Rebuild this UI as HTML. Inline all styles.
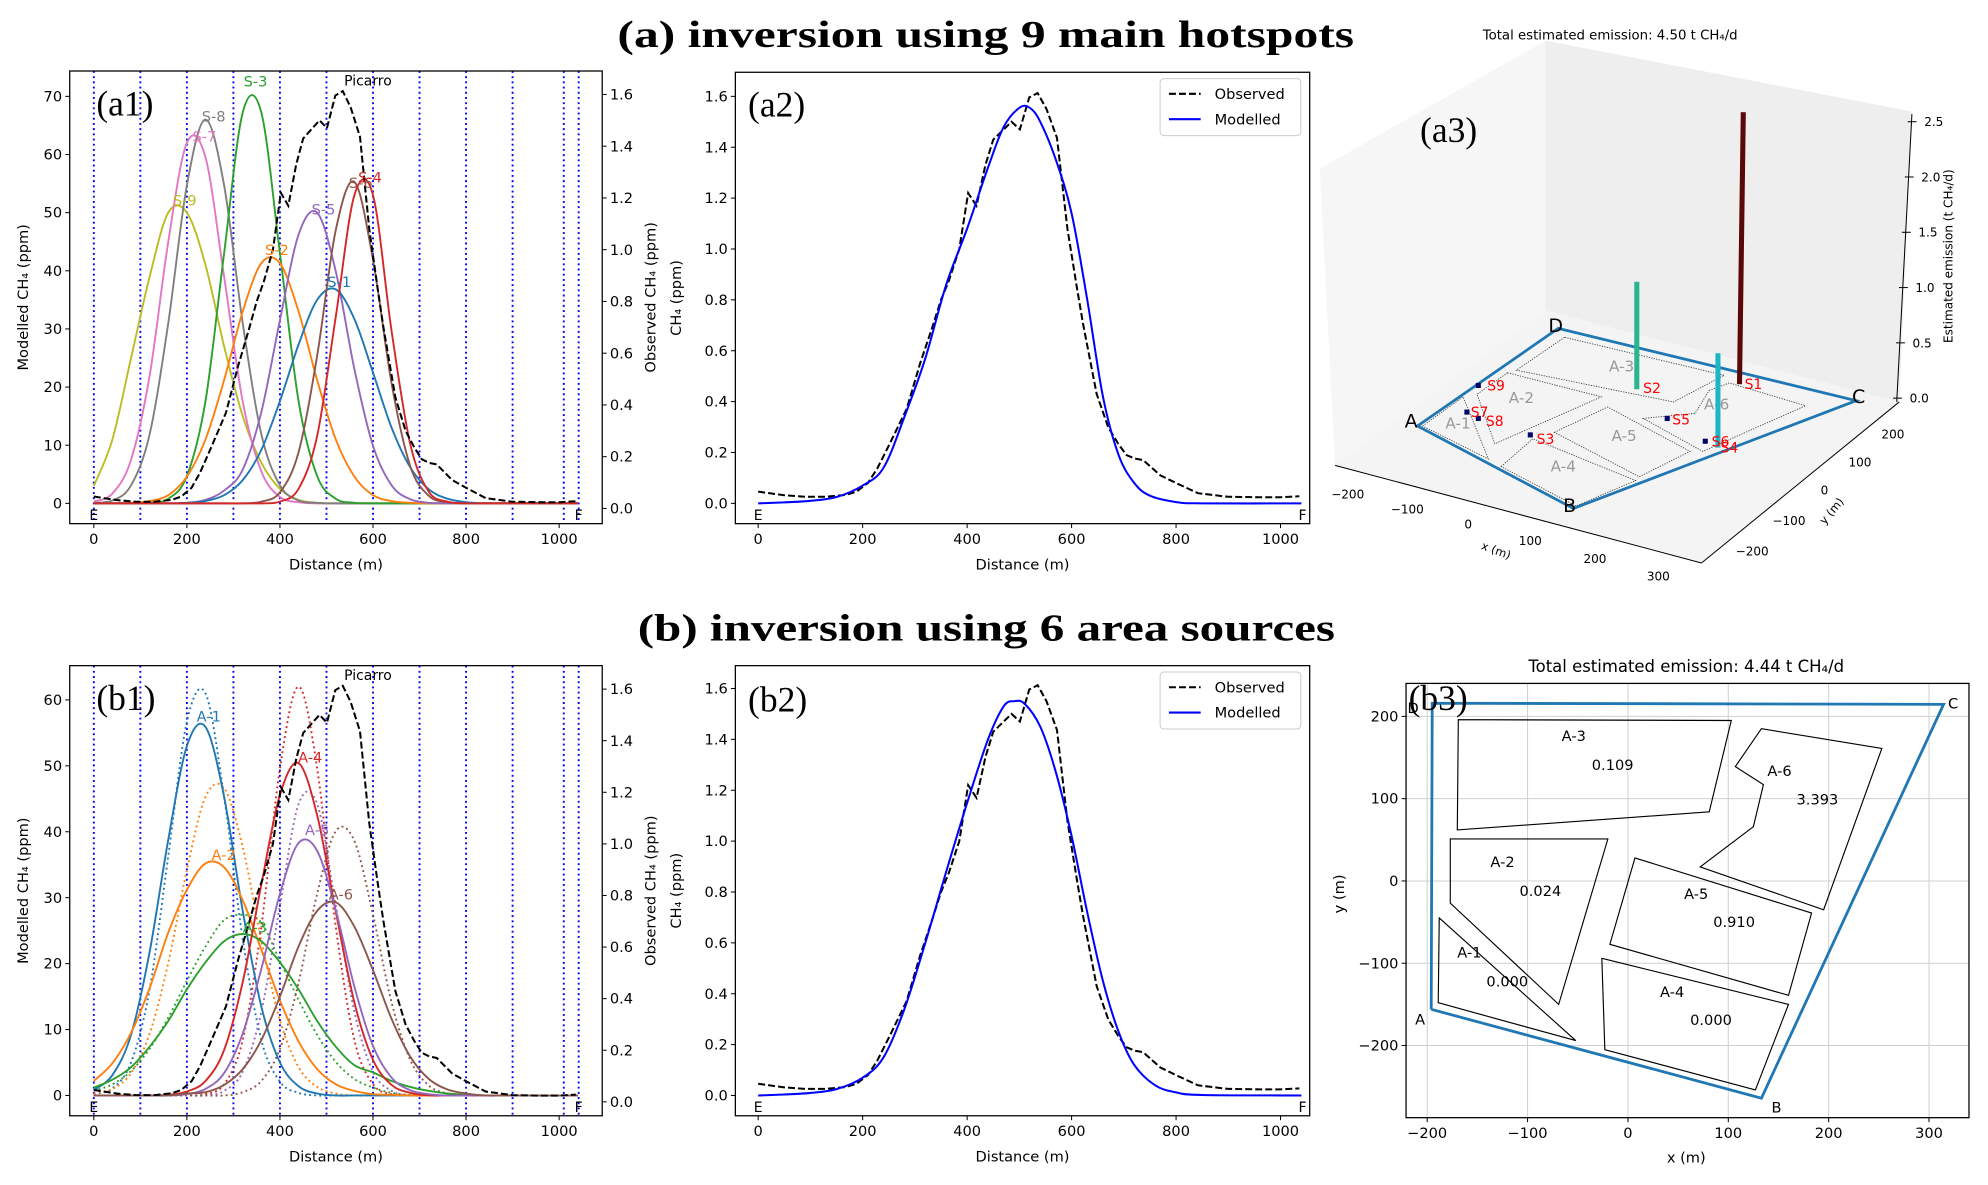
<!DOCTYPE html>
<html><head><meta charset="utf-8">
<style>
html,body{margin:0;padding:0;background:#fff;}
svg{display:block;}
text{font-family:"DejaVu Sans","Liberation Sans",sans-serif;}
.serif{font-family:"Liberation Serif","DejaVu Serif",serif;}
</style></head>
<body>
<svg id="fig" xmlns="http://www.w3.org/2000/svg" width="1988" height="1185" viewBox="0 0 1568 934.6" preserveAspectRatio="none">
<text class="serif" x="487" y="37" font-size="30" font-weight="bold" textLength="581" lengthAdjust="spacingAndGlyphs">(a) inversion using 9 main hotspots</text>
<text class="serif" x="503" y="505" font-size="30" font-weight="bold" textLength="550" lengthAdjust="spacingAndGlyphs">(b) inversion using 6 area sources</text>
</svg>
<script>
// ---------- data ----------
const dist=[0,40,80,120,160,200,240,280,320,360,400,440,480,520,560,600,640,680,720,760,800,840,880,920,960,1000,1040];
const aNames=['S-9','S-7','S-8','S-3','S-2','S-5','S-1','S-6','S-4'];
const aColors=['#bcbd22','#e377c2','#7f7f7f','#2ca02c','#ff7f0e','#9467bd','#1f77b4','#8c564b','#d62728'];
const s9=[3,11,25,39,50,50,41,27,15,7,2.5,0.6,0.1,0,0,0,0,0,0,0,0,0,0,0,0,0,0];
const s7=[0.3,1.7,7.5,22,45,62,59.5,39,17.5,5.5,1.1,0.2,0,0,0,0,0,0,0,0,0,0,0,0,0,0,0];
const s8=[0.1,0.5,3.1,11.9,31,54.7,66,54.7,31,11.9,3.1,0.5,0.1,0,0,0,0,0,0,0,0,0,0,0,0,0,0];
const s3=[0,0,0,0.1,0.8,4.7,17.6,43,67.2,67.2,43,17.6,4.7,0.8,0.1,0,0,0,0,0,0,0,0,0,0,0,0];
const s2=[0,0,0.1,0.4,1.4,4.6,11,21.2,33,41.3,41.3,33,21.2,11,4.6,1.4,0.4,0.1,0,0,0,0,0,0,0,0,0];
const s5=[0,0,0,0,0,0.1,0.6,2.2,5.8,15.7,31.5,46.2,50,39.9,23.1,9.9,3.1,0.7,0.1,0,0,0,0,0,0,0,0];
const s1=[0,0,0,0,0,0.1,0.4,1.4,4,9.2,17.6,27.3,35,36.8,31.7,22.5,13,6.2,2.4,0.8,0.2,0,0,0,0,0,0];
const s6=[0,0,0,0,0,0,0,0,0,0.3,1.9,8.8,25.4,47,55.3,41.9,20.6,6.4,1.3,0.2,0,0,0,0,0,0,0];
const s4=[0,0,0,0,0,0,0,0,0,0,0.3,2.5,11.6,32.1,53,53,29.6,10.2,2,0.3,0,0,0,0,0,0,0];
const aLabelX=[170,212,232,322,368,468,502,548,568];
const aLabelY=[51,62,65.5,71.5,42.5,49.5,37,54,55];

const bNames=['A-1','A-2','A-3','A-4','A-5','A-6'];
const bColors=['#1f77b4','#ff7f0e','#2ca02c','#d62728','#9467bd','#8c564b'];
const a1s=[0.8,3.1,9.2,21.8,38.8,53,55.9,45.3,28,13.5,5,1.4,0.3,0,0,0,0,0,0,0,0,0,0,0,0,0,0];
const a1d=[0.2,1.1,5,16.1,36.3,56.7,61,45.3,23.7,8.4,2.1,0.4,0,0,0,0,0,0,0,0,0,0,0,0,0,0,0];
const a2s=[2.2,4.9,9.5,16.3,24.7,31.2,35.2,34.6,29.6,22.1,14.4,8.2,4,1.7,0.7,0.2,0.1,0,0,0,0,0,0,0,0,0,0];
const a2d=[0.3,1,3.4,9.4,20.1,34.2,45.3,46.6,37.7,23.5,11.4,4.3,1.3,0.3,0,0,0,0,0,0,0,0,0,0,0,0,0];
const a3s=[1.2,2.4,4.3,7.4,11.3,16.1,20.2,23.4,24.5,23.4,20.2,16.1,11.3,7.4,4.6,3.5,2.2,1.3,0.7,0.3,0.1,0,0,0,0,0,0];
const a3d=[0.7,1.7,3.7,7.1,11.8,17.4,22.6,26.6,27.4,26.2,20.4,14.5,9.2,5.1,2.5,1.2,0.4,0.1,0,0,0,0,0,0,0,0,0];
const a4s=[0,0,0,0,0.1,0.6,2.2,6.9,17.2,32,45.6,50.4,42.5,27.9,14.1,5.4,1.6,0.4,0,0,0,0,0,0,0,0,0];
const a4d=[0,0,0,0,0,0,0.2,1.7,8.4,25.6,49.6,62,49.6,25.6,8.4,1.7,0.2,0,0,0,0,0,0,0,0,0,0];
const a5s=[0,0,0,0,0,0.2,1,3.4,9.4,19.2,30.6,38.3,37.1,28.1,16.5,7.5,2.7,0.8,0.2,0,0,0,0,0,0,0,0];
const a5d=[0,0,0,0,0,0,0,0.7,3.6,12.7,28.8,44.2,44.2,28.8,12.7,3.6,0.7,0,0,0,0,0,0,0,0,0,0];
const a6s=[0,0,0,0,0,0.3,0.5,1.6,4,8.4,15,22.6,28,29.3,25.6,19,11.6,5.9,2.5,0.9,0.3,0,0,0,0,0,0];
const a6d=[0,0,0,0,0,0,0,0,0.5,2.2,7.1,17.1,30.6,40.1,38.6,27.4,14.1,5.4,1.5,0.3,0,0,0,0,0,0,0];
const bLabelX=[221,253,320,439,454,505];
const bLabelY=[56.5,35.5,24.5,50.3,39.3,29.5];

const obsD=[0,50,90,130,167,188,210,228,252,284,310,333,350,365,385,402,418,435,450,470,485,501,519,535,552,572,592,610,622,648,670,689,705,721,737,770,802,842,899,960,1000,1036];
const obsV=[0.046,0.032,0.026,0.026,0.033,0.046,0.08,0.137,0.235,0.37,0.55,0.69,0.8,0.875,1.0,1.22,1.17,1.33,1.43,1.47,1.5,1.47,1.596,1.613,1.55,1.437,1.08,0.85,0.705,0.43,0.3,0.235,0.19,0.176,0.17,0.11,0.078,0.04,0.026,0.024,0.024,0.028];
const modAD=[0,50,100,150,200,240,280,320,360,400,440,470,500,520,540,570,600,630,660,690,720,750,800,850,1040];
const modAV=[0,0.004,0.01,0.025,0.07,0.14,0.34,0.57,0.86,1.08,1.32,1.48,1.555,1.555,1.5,1.35,1.14,0.8,0.42,0.19,0.08,0.03,0.005,0,0];
const modBD=[0,50,100,150,200,240,280,320,360,400,440,470,490,510,540,570,600,630,660,690,720,760,800,850,1040];
const modBV=[0,0.004,0.01,0.025,0.07,0.15,0.34,0.6,0.88,1.15,1.4,1.53,1.55,1.54,1.45,1.27,1.02,0.72,0.45,0.25,0.12,0.04,0.012,0.002,0];
const vLines=[0,100,200,300,400,500,600,700,800,900,1010,1042];
const xTicks=[0,200,400,600,800,1000];
const obsTicks=[0,0.2,0.4,0.6,0.8,1.0,1.2,1.4,1.6];

// a3 bars
const barNames=['S1','S2','S4'];
const barEmis=[2.48,0.98,0.86];
const zTicks=[0,0.5,1.0,1.5,2.0,2.5];

// b3 data
const areaNames=['A-1','A-2','A-3','A-4','A-5','A-6'];
const areaEmis=['0.000','0.024','0.109','0.000','0.910','3.393'];
const polyA1=[[-188,-45],[-52,-194],[-189,-148]];
const polyA2=[[-177,51],[-20,51],[-69,-150],[-177,-27]];
const polyA3=[[-169,196],[103,195],[81,84],[-170,62]];
const polyA4=[[-26,-94],[160,-150],[127,-254],[-23,-205]];
const polyA5=[[7,28],[183,-39],[160,-139],[-18,-77]];
const polyA6=[[133,185],[253,161],[195,-35],[72,17],[125,66],[135,117],[107,139]];
const labelPos=[[-170,-87],[-137,23],[-66,176],[32,-135],[56,-16],[139,134]];
const valuePos=[[-141,-122],[-108,-12],[-36,141],[62,-169],[85,-50],[168,99]];
const boundary=[[-196,-156],[-195,216],[314.5,214.6],[133,-264],[-196,-156]];
const cornerNames=['A','D','C','B'];
const cornerPos=[[-207,-168],[-214,210],[324,216],[148,-275]];
const b3XTicks=[-200,-100,0,100,200,300];
const b3YTicks=[-200,-100,0,100,200];

// ---------- helpers ----------
const NS='http://www.w3.org/2000/svg';
const svg=document.getElementById('fig');
const FS=11.5;
function add(parent,tag,attrs,name,text){
  const el=document.createElementNS(NS,tag);
  for(const k in attrs) el.setAttribute(k,attrs[k]);
  
  
  if(text!==undefined) el.textContent=text;
  parent.appendChild(el);
  return el;
}
function lin(d0,d1,r0,r1){return v=>r0+(v-d0)*(r1-r0)/(d1-d0);}
function smooth(pts){
  let d='M'+pts[0][0].toFixed(2)+','+pts[0][1].toFixed(2);
  for(let i=0;i<pts.length-1;i++){
    const p0=pts[i-1]||pts[i],p1=pts[i],p2=pts[i+1],p3=pts[i+2]||p2;
    const c1=[p1[0]+(p2[0]-p0[0])/6,p1[1]+(p2[1]-p0[1])/6];
    const c2=[p2[0]-(p3[0]-p1[0])/6,p2[1]-(p3[1]-p1[1])/6];
    d+='C'+c1[0].toFixed(2)+','+c1[1].toFixed(2)+' '+c2[0].toFixed(2)+','+c2[1].toFixed(2)+' '+p2[0].toFixed(2)+','+p2[1].toFixed(2);
  }
  return d;
}
function poly(pts){return 'M'+pts.map(p=>p[0].toFixed(2)+','+p[1].toFixed(2)).join('L');}
let clipN=0;
function clip(box){
  const id='clip'+(clipN++);
  const cp=add(svg,'clipPath',{id:id},'clip-region');
  add(cp,'rect',{x:box.L,y:box.T,width:box.R-box.L,height:box.B-box.T},'clip-rect');
  return 'url(#'+id+')';
}
function xAxis(g,box,X,label){
  xTicks.forEach(t=>{
    add(g,'line',{x1:X(t),x2:X(t),y1:box.B,y2:box.B+3.5,stroke:'#000','stroke-width':0.8},'x-tick');
    add(g,'text',{x:X(t),y:box.B+16,'font-size':FS,'text-anchor':'middle'},'x-tick-label',String(t));
  });
  add(g,'text',{x:(box.L+box.R)/2,y:box.B+36,'font-size':FS,'text-anchor':'middle'},'x-axis-title',label);
}
function yAxis(g,box,Y,ticks,fmt,side){
  ticks.forEach(t=>{
    if(side==='left'){
      add(g,'line',{x1:box.L,x2:box.L-3.5,y1:Y(t),y2:Y(t),stroke:'#000','stroke-width':0.8},'y-tick');
      add(g,'text',{x:box.L-6,y:Y(t)+4,'font-size':FS,'text-anchor':'end'},'y-tick-label',fmt(t));
    }else{
      add(g,'line',{x1:box.R,x2:box.R+3.5,y1:Y(t),y2:Y(t),stroke:'#000','stroke-width':0.8},'y2-tick');
      add(g,'text',{x:box.R+6,y:Y(t)+4,'font-size':FS,'text-anchor':'start'},'y2-tick-label',fmt(t));
    }
  });
}
function vtext(g,x,y,txt,name){
  add(g,'text',{x:x,y:y,'font-size':FS,'text-anchor':'middle',transform:'rotate(-90 '+x+' '+y+')'},name,txt);
}
function ef(g,X,yb){
  add(g,'text',{x:X(0),y:yb,'font-size':11,'text-anchor':'middle'},'label-e','E');
  add(g,'text',{x:X(1042),y:yb,'font-size':11,'text-anchor':'middle'},'label-f','F');
}

// ---------- source panels (a1, b1) ----------
function sourcePanel(cfg){
  const g=add(svg,'g',{},cfg.name);
  const box=cfg.box, X=lin(0,1000,cfg.x0,cfg.x1000), YL=lin(0,cfg.ltop,cfg.yl0,cfg.yltop), YR=lin(0,1.6,cfg.yr0,cfg.yr16);
  const cp=clip(box);
  const inner=add(g,'g',{'clip-path':cp},'plot-area');
  vLines.forEach(v=>add(inner,'line',{x1:X(v),x2:X(v),y1:box.T,y2:box.B,stroke:'#0000ff','stroke-width':1.5,'stroke-dasharray':'1.5,2.6'},'section-line'));
  cfg.series.forEach((s,i)=>{
    add(inner,'path',{d:smooth(dist.map((d,j)=>[X(d),YL(s.v[j])])),fill:'none',stroke:s.c,'stroke-width':1.5,'stroke-dasharray':s.dot?'1.5,2.5':'none'},s.name);
  });
  add(inner,'path',{d:poly(obsD.map((d,j)=>[X(d),YR(obsV[j])])),fill:'none',stroke:'#000','stroke-width':1.6,'stroke-dasharray':'5.5,2.4'},'observed-line');
  cfg.labels.forEach(l=>add(g,'text',{x:X(l.x),y:YL(l.y)-1,'font-size':11.5,fill:l.c},'curve-label',l.t));
  add(g,'text',{x:X(538),y:YR(1.635),'font-size':11},'picarro-label','Picarro');
  ef(g,X,cfg.yl0+13);
  add(g,'rect',{x:box.L,y:box.T,width:box.R-box.L,height:box.B-box.T,fill:'none',stroke:'#000','stroke-width':1},'plot-frame');
  xAxis(g,box,X,'Distance (m)');
  const lt=[];for(let t=0;t<=cfg.ltop;t+=10)lt.push(t);
  yAxis(g,box,YL,lt,t=>String(t),'left');
  yAxis(g,box,YR,obsTicks,t=>t.toFixed(1),'right');
  vtext(g,22,(box.T+box.B)/2,'Modelled CH\u2084 (ppm)','y-axis-title');
  vtext(g,517,(box.T+box.B)/2,'Observed CH\u2084 (ppm)','y2-axis-title');
  add(g,'text',{class:'serif',x:76,y:cfg.labY,'font-size':28},'panel-label',cfg.lab);
}
sourcePanel({name:'panel-a1',lab:'(a1)',labY:91,box:{L:55,R:475,T:56,B:413},x0:74,x1000:441,ltop:70,yl0:397,yltop:76,yr0:401,yr16:74.5,
  series:[s9,s7,s8,s3,s2,s5,s1,s6,s4].map((v,i)=>({v:v,c:aColors[i],name:'curve-'+aNames[i].toLowerCase()})),
  labels:aNames.map((t,i)=>({t:t,x:aLabelX[i],y:aLabelY[i],c:aColors[i]}))});
sourcePanel({name:'panel-b1',lab:'(b1)',labY:560,box:{L:55,R:475,T:525,B:880},x0:74,x1000:441,ltop:60,yl0:864,yltop:552,yr0:869,yr16:543.5,
  series:[a1d,a2d,a3d,a4d,a5d,a6d].map((v,i)=>({v:v,c:bColors[i],dot:true,name:'curve-'+bNames[i].toLowerCase()+'-dotted'}))
   .concat([a1s,a2s,a3s,a4s,a5s,a6s].map((v,i)=>({v:v,c:bColors[i],name:'curve-'+bNames[i].toLowerCase()}))),
  labels:bNames.map((t,i)=>({t:t,x:bLabelX[i],y:bLabelY[i],c:bColors[i]}))});

// ---------- fit panels (a2, b2) ----------
function fitPanel(cfg){
  const g=add(svg,'g',{},cfg.name);
  const box=cfg.box, X=lin(0,1000,598,1010), Y=lin(0,1.6,cfg.y0,cfg.y16);
  const cp=clip(box);
  const inner=add(g,'g',{'clip-path':cp},'plot-area');
  add(inner,'path',{d:poly(obsD.map((d,j)=>[X(d),Y(obsV[j])])),fill:'none',stroke:'#000','stroke-width':1.6,'stroke-dasharray':'5.5,2.4'},'observed-line');
  add(inner,'path',{d:smooth(cfg.md.map((d,j)=>[X(d),Y(cfg.mv[j])])),fill:'none',stroke:'#0000ff','stroke-width':1.6},'modelled-line');
  ef(g,X,cfg.y0+13);
  add(g,'rect',{x:box.L,y:box.T,width:box.R-box.L,height:box.B-box.T,fill:'none',stroke:'#000','stroke-width':1},'plot-frame');
  xAxis(g,box,X,'Distance (m)');
  yAxis(g,box,Y,obsTicks,t=>t.toFixed(1),'left');
  vtext(g,537,(box.T+box.B)/2,'CH\u2084 (ppm)','y-axis-title');
  add(g,'text',{class:'serif',x:590,y:cfg.labY,'font-size':28},'panel-label',cfg.lab);
  const lg=add(g,'g',{},'legend');
  const ly=box.T+5;
  add(lg,'rect',{x:915,y:ly,width:111,height:45,rx:3,fill:'#fff',stroke:'#ccc','stroke-width':0.8},'legend-box');
  add(lg,'line',{x1:922,x2:947,y1:ly+12,y2:ly+12,stroke:'#000','stroke-width':1.6,'stroke-dasharray':'5.5,2.4'},'legend-observed-swatch');
  add(lg,'text',{x:958,y:ly+16,'font-size':11.5},'legend-observed-label','Observed');
  add(lg,'line',{x1:922,x2:947,y1:ly+32,y2:ly+32,stroke:'#0000ff','stroke-width':1.6},'legend-modelled-swatch');
  add(lg,'text',{x:958,y:ly+36,'font-size':11.5},'legend-modelled-label','Modelled');
}
fitPanel({name:'panel-a2',lab:'(a2)',labY:92,box:{L:580,R:1033,T:57,B:413},y0:397,y16:76,md:modAD,mv:modAV});
fitPanel({name:'panel-b2',lab:'(b2)',labY:561,box:{L:580,R:1033,T:525,B:880},y0:864,y16:543,md:modBD,mv:modBV});

// ---------- a3 (3D) ----------
(function(){
  const g=add(svg,'g',{},'panel-a3');
  add(g,'polygon',{points:'1041,133 1219,32 1219,245 1053,367',fill:'#f6f6f6'},'left-pane');
  add(g,'polygon',{points:'1219,32 1508,88 1498,317 1219,245',fill:'#eeeeee'},'back-pane');
  add(g,'polygon',{points:'1053,367 1219,245 1498,317 1342,444',fill:'#f4f4f4'},'floor-pane');
  add(g,'text',{x:1270,y:31,'font-size':10.5,'text-anchor':'middle'},'a3-title','Total estimated emission: 4.50 t CH\u2084/d');
  add(g,'text',{class:'serif',x:1120,y:112,'font-size':28},'panel-label','(a3)');
  const polys=[[[1234,266],[1196,292],[1320,317],[1360,296]],[[1189,294],[1165,311],[1179,350],[1263,313]],[[1122,336],[1154,313],[1174,362]],[[1184,368],[1209,346],[1290,379],[1243,399]],[[1226,341],[1268,321],[1333,356],[1293,376]],[[1348,308],[1364,302],[1424,320],[1343,356],[1296,330],[1337,326]]];
  polys.forEach(p=>add(g,'path',{d:poly(p)+'Z',fill:'none',stroke:'#444','stroke-width':0.7,'stroke-dasharray':'1,1'},'area-outline'));
  [['A-3',1279,293],['A-2',1200,318],['A-1',1150,338],['A-6',1354,323],['A-5',1281,348],['A-4',1233,372]].forEach(a=>add(g,'text',{x:a[1],y:a[2],'font-size':12,fill:'#999','text-anchor':'middle'},'area-label',a[0]));
  add(g,'path',{d:'M1118,336L1229,259L1464,316L1241,401Z',fill:'none',stroke:'#1f77b4','stroke-width':2.2},'site-boundary');
  [['A',1113,337],['D',1227,262],['C',1466,318],['B',1238,404]].forEach(c=>add(g,'text',{x:c[1],y:c[2],'font-size':15,'text-anchor':'middle'},'corner-label',c[0]));
  [[1166,304],[1157,325],[1166,330],[1207,343],[1315,330],[1345,348]].forEach(p=>add(g,'rect',{x:p[0]-2,y:p[1]-2,width:4,height:4,fill:'#000066'},'source-marker'));
  const zPer=86.5;
  const barBase=[[1372,303],[1291,307],[1355,353]];
  const barCol=['#5a0808','#27b68e','#1cb6c6'];
  barEmis.forEach((e,i)=>{
    add(g,'line',{x1:barBase[i][0],y1:barBase[i][1],x2:barBase[i][0]+(i===0?3:0),y2:barBase[i][1]-e*zPer,stroke:barCol[i],'stroke-width':4},'emission-bar-'+barNames[i].toLowerCase());
  });
  [['S9',1173,308],['S7',1160,329],['S8',1172,336],['S3',1212,350],['S2',1296,310],['S1',1376,307],['S5',1319,335],['S6',1350,352],['S4',1357,357]].forEach(s=>add(g,'text',{x:s[1],y:s[2],'font-size':11,fill:'#ff0000'},'source-label',s[0]));
  const Z=lin(0,2.5,314,96);
  add(g,'line',{x1:1496,y1:317,x2:1508,y2:90,stroke:'#000','stroke-width':0.8},'z-axis');
  zTicks.forEach(t=>{
    const x=1496+(317-Z(t))*12/227;
    add(g,'line',{x1:x-3,x2:x+4,y1:Z(t),y2:Z(t),stroke:'#000','stroke-width':0.8},'z-tick');
    add(g,'text',{x:x+10,y:Z(t)+3.5,'font-size':9.5},'z-tick-label',t.toFixed(1));
  });
  add(g,'text',{x:1540,y:202,'font-size':9.5,'text-anchor':'middle',transform:'rotate(-90 1540 202)'},'z-axis-title','Estimated emission (t CH\u2084/d)');
  add(g,'line',{x1:1053,y1:367,x2:1342,y2:444,stroke:'#000','stroke-width':0.8},'x-axis');
  [['\u2212200',1063,393],['\u2212100',1110,405],['0',1158,417],['100',1207,430],['200',1258,444],['300',1308,458]].forEach(t=>add(g,'text',{x:t[1],y:t[2],'font-size':9.5,'text-anchor':'middle'},'x-tick-label',t[0]));
  add(g,'text',{x:1179,y:437,'font-size':9,'text-anchor':'middle',transform:'rotate(20 1179 437)'},'x-axis-title','x (m)');
  add(g,'line',{x1:1342,y1:444,x2:1498,y2:317,stroke:'#000','stroke-width':0.8},'y-axis');
  [['200',1493,346],['100',1467,368],['0',1439,390],['\u2212100',1411,414],['\u2212200',1382,438]].forEach(t=>add(g,'text',{x:t[1],y:t[2],'font-size':9.5,'text-anchor':'middle'},'y-tick-label',t[0]));
  add(g,'text',{x:1447,y:405,'font-size':9,'text-anchor':'middle',transform:'rotate(-50 1447 405)'},'y-axis-title','y (m)');
})();

// ---------- b3 ----------
(function(){
  const g=add(svg,'g',{},'panel-b3');
  const box={L:1109,R:1553,T:539,B:881.5};
  const X=lin(0,100,1284,1363.16), Y=lin(0,100,694.8,629.9);
  b3XTicks.forEach(t=>{
    add(g,'line',{x1:X(t),x2:X(t),y1:box.T,y2:box.B,stroke:'#d0d0d0','stroke-width':0.8},'grid-x');
    add(g,'line',{x1:X(t),x2:X(t),y1:box.B,y2:box.B+3.5,stroke:'#000','stroke-width':0.8},'x-tick');
    add(g,'text',{x:X(t),y:box.B+16,'font-size':FS,'text-anchor':'middle'},'x-tick-label',String(t).replace('-','\u2212'));
  });
  b3YTicks.forEach(t=>{
    add(g,'line',{x1:box.L,x2:box.R,y1:Y(t),y2:Y(t),stroke:'#d0d0d0','stroke-width':0.8},'grid-y');
    add(g,'line',{x1:box.L,x2:box.L-3.5,y1:Y(t),y2:Y(t),stroke:'#000','stroke-width':0.8},'y-tick');
    add(g,'text',{x:box.L-6,y:Y(t)+4,'font-size':FS,'text-anchor':'end'},'y-tick-label',String(t).replace('-','\u2212'));
  });
  [polyA1,polyA2,polyA3,polyA4,polyA5,polyA6].forEach((p,i)=>{
    add(g,'path',{d:poly(p.map(q=>[X(q[0]),Y(q[1])]))+'Z',fill:'none',stroke:'#000','stroke-width':0.9},'area-'+areaNames[i].toLowerCase());
    add(g,'text',{x:X(labelPos[i][0]),y:Y(labelPos[i][1])+4,'font-size':11.5},'area-label',areaNames[i]);
    add(g,'text',{x:X(valuePos[i][0]),y:Y(valuePos[i][1])+4,'font-size':11.5},'area-emission',areaEmis[i]);
  });
  add(g,'path',{d:poly(boundary.map(q=>[X(q[0]),Y(q[1])])),fill:'none',stroke:'#1f77b4','stroke-width':2.2},'site-boundary');
  cornerNames.forEach((c,i)=>add(g,'text',{x:X(cornerPos[i][0]),y:Y(cornerPos[i][1])+4,'font-size':11.5,'text-anchor':'middle'},'corner-label',c));
  add(g,'rect',{x:box.L,y:box.T,width:box.R-box.L,height:box.B-box.T,fill:'none',stroke:'#000','stroke-width':1},'plot-frame');
  add(g,'text',{x:1330,y:530,'font-size':13,'text-anchor':'middle'},'b3-title','Total estimated emission: 4.44 t CH\u2084/d');
  add(g,'text',{x:1330,y:917,'font-size':FS,'text-anchor':'middle'},'x-axis-title','x (m)');
  vtext(g,1060,705,'y (m)','y-axis-title');
  add(g,'text',{class:'serif',x:1111,y:560,'font-size':28},'panel-label','(b3)');
})();
</script>
</body></html>
